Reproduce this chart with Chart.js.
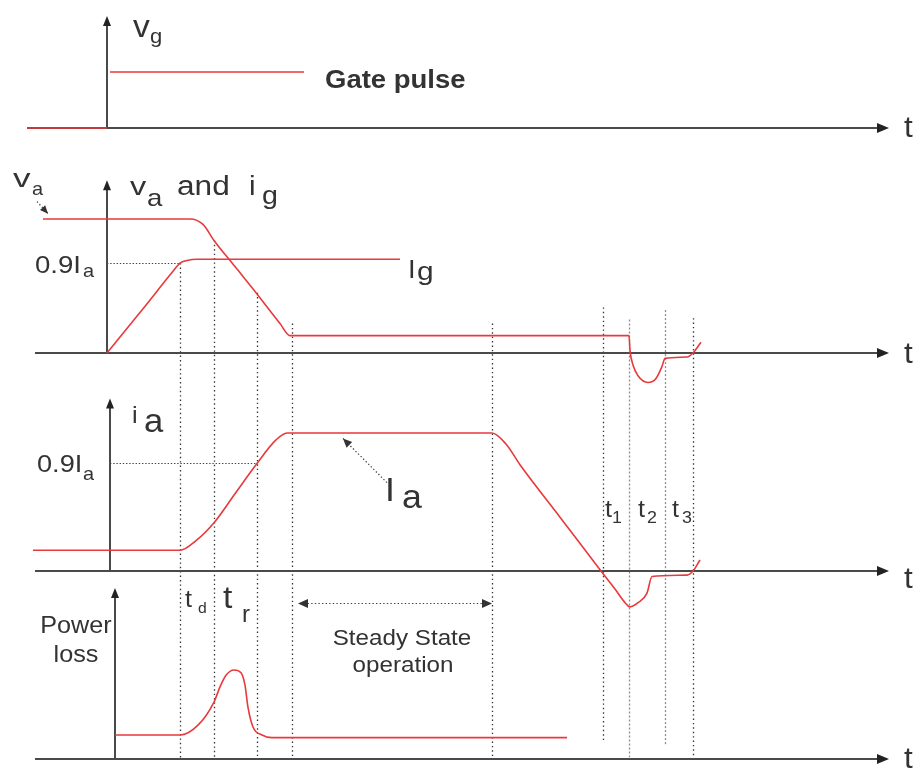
<!DOCTYPE html>
<html>
<head>
<meta charset="utf-8">
<title>Thyristor switching characteristics</title>
<script src="https://cdn.jsdelivr.net/npm/chart.js@4.4.1/dist/chart.umd.min.js"></script>
<style>
  html, body { margin: 0; padding: 0; background: #fff; }
  #chart { display: block; }
</style>
</head>
<body>
<canvas id="chart" width="917" height="769"></canvas>
<script>
// time in arbitrary units, gate pulse applied at t = 0
// gate voltage (1 = pulse amplitude)
const gateT = [-8, 0, 0.15, 0.3, 19.7];
const gateV = [0, 0, null, 1, 1];

// anode voltage (1 = Va) and gate current, same units
const vaT = [-6.4, 8.3, 9.6, 10.7, 12.8, 14.9, 17.3, 18.3, 52.2, 52.3, 52.6, 53.1, 54.1, 54.9, 55.5, 55.8, 58.0, 58.6, 59.4];
const vaV = [1, 1, 0.96, 0.84, 0.645, 0.45, 0.22, 0.13, 0.13, 0.02, -0.09, -0.17, -0.22, -0.19, -0.1, -0.04, -0.03, 0, 0.08];
const igT = [0, 3.6, 6.5, 7.3, 8.0, 9.0, 29.3];
const igV = [0, 0.33, 0.6, 0.67, 0.69, 0.70, 0.70];
const igMark = 0.67;

// anode current (1 = Ia)
const iaT = [-7.4, 7.3, 8.9, 10.7, 12.8, 14.9, 16.9, 18.0, 38.5, 39.9, 41.3, 45.3, 49.4, 50.8, 51.7, 52.3, 53.1, 54.0, 54.5, 58.0, 58.6, 59.3];
const iaV = [0.15, 0.15, 0.22, 0.35, 0.56, 0.77, 0.95, 1, 1, 0.92, 0.77, 0.39, 0, -0.13, -0.22, -0.26, -0.23, -0.16, -0.04, -0.03, 0, 0.08];
const iaMark = 0.78;

// power loss (1 = peak)
const lossT = [0.8, 7.3, 9.1, 10.7, 11.3, 11.9, 12.7, 13.4, 13.8, 14.1, 14.6, 15.5, 16.5, 46.0];
const lossV = [0.27, 0.27, 0.38, 0.64, 0.81, 0.94, 1, 0.97, 0.83, 0.58, 0.36, 0.27, 0.24, 0.24];

// dotted time markers: time, top (va units), bottom (power units)
const guideT = [7.3, 10.7, 15.0, 18.5, 38.5, 49.6, 52.2, 55.8, 58.6];
const guideTop = [0.67, 0.84, 0.45, 0.22, 0.22, 0.34, 0.25, 0.32, 0.26];
const guideBottom = [0, 0, 0, 0, 0, 0.18, 0.02, 0.16, 0.04];

// layout: baseline pixel and pixels per unit for each strip
const H = 769;
const panels = {
    p1: { base: 128, unit: 56 },
    p2: { base: 353, unit: 134 },
    p3: { base: 571, unit: 138 },
    p4: { base: 759, unit: 89 }
};
const RED = '#e8393c';
const AXIS = '#4a4a4a';
const TEXT = '#333';

const pts = (ts, vs) => ts.map((t, i) => ({ x: t, y: vs[i] }));
const yScale = p => ({ type: 'linear', display: false, min: -(H - p.base) / p.unit, max: p.base / p.unit });

// axes per strip: x start, y-axis time, y-axis top
const axes = [
    { id: 'p1', from: -8, yt: 0, top: 2.0 },
    { id: 'p2', from: -7.2, yt: 0, top: 1.29 },
    { id: 'p3', from: -7.2, yt: 0.3, top: 1.25 },
    { id: 'p4', from: -7.2, yt: 0.8, top: 1.92 }
];
const axisEnd = 78.2;

const labels = [
    { s: 'v', t: 2.6, v: 1.63, p: 'p1', size: 32 },
    { s: 'g', t: 4.3, v: 1.52, p: 'p1', size: 21 },
    { s: 'Gate pulse', t: 21.8, v: 0.71, p: 'p1', size: 25, bold: true, sx: 1.1 },
    { s: 't', t: 79.7, v: -0.16, p: 'p1', size: 30 },

    { s: 'v', t: -9.4, v: 1.24, p: 'p2', size: 26, sx: 1.35 },
    { s: 'a', t: -7.5, v: 1.18, p: 'p2', size: 19 },
    { s: 'v', t: 2.3, v: 1.18, p: 'p2', size: 25, sx: 1.3 },
    { s: 'a', t: 4.0, v: 1.10, p: 'p2', size: 24, sx: 1.15 },
    { s: 'and', t: 7.0, v: 1.18, p: 'p2', size: 27, sx: 1.17 },
    { s: 'i', t: 14.2, v: 1.18, p: 'p2', size: 27, sx: 1.1 },
    { s: 'g', t: 15.5, v: 1.11, p: 'p2', size: 26, sx: 1.1 },
    { s: '0.9I', t: -7.2, v: 0.60, p: 'p2', size: 23, sx: 1.2 },
    { s: 'a', t: -2.4, v: 0.57, p: 'p2', size: 19, sx: 1.05 },
    { s: 'I', t: 30.1, v: 0.56, p: 'p2', size: 26 },
    { s: 'g', t: 31.0, v: 0.545, p: 'p2', size: 26, sx: 1.15 },
    { s: 't', t: 79.7, v: -0.075, p: 'p2', size: 30 },

    { s: 'i', t: 2.5, v: 1.07, p: 'p3', size: 24 },
    { s: 'a', t: 3.7, v: 1.01, p: 'p3', size: 33 },
    { s: '0.9I', t: -7.0, v: 0.72, p: 'p3', size: 23, sx: 1.18 },
    { s: 'a', t: -2.4, v: 0.66, p: 'p3', size: 19, sx: 1.05 },
    { s: 'I', t: 27.8, v: 0.51, p: 'p3', size: 34 },
    { s: 'a', t: 29.5, v: 0.46, p: 'p3', size: 34 },
    { s: 't', t: 49.8, v: 0.39, p: 'p3', size: 24 },
    { s: '1', t: 50.5, v: 0.35, p: 'p3', size: 17 },
    { s: 't', t: 53.1, v: 0.39, p: 'p3', size: 24 },
    { s: '2', t: 54.0, v: 0.35, p: 'p3', size: 17 },
    { s: 't', t: 56.5, v: 0.39, p: 'p3', size: 24 },
    { s: '3', t: 57.5, v: 0.35, p: 'p3', size: 17 },
    { s: 't', t: 79.7, v: -0.12, p: 'p3', size: 30 },

    { s: 'Power', t: -3.1, v: 1.42, p: 'p4', size: 24, align: 'center' },
    { s: 'loss', t: -3.1, v: 1.09, p: 'p4', size: 24, align: 'center' },
    { s: 't', t: 7.8, v: 1.71, p: 'p4', size: 24 },
    { s: 'd', t: 9.1, v: 1.64, p: 'p4', size: 15 },
    { s: 't', t: 11.6, v: 1.70, p: 'p4', size: 32 },
    { s: 'r', t: 13.5, v: 1.54, p: 'p4', size: 23 },
    { s: 'Steady State', t: 29.5, v: 1.28, p: 'p4', size: 22, align: 'center', sx: 1.1 },
    { s: 'operation', t: 29.6, v: 0.98, p: 'p4', size: 22, align: 'center', sx: 1.1 },
    { s: 't', t: 79.7, v: -0.10, p: 'p4', size: 30 }
];

function seg(ctx, x1, y1, x2, y2) {
    ctx.beginPath();
    ctx.moveTo(x1, y1);
    ctx.lineTo(x2, y2);
    ctx.stroke();
}

function head(ctx, x1, y1, x2, y2, len, half) {
    const a = Math.atan2(y2 - y1, x2 - x1);
    ctx.beginPath();
    ctx.moveTo(x2, y2);
    ctx.lineTo(x2 - len * Math.cos(a) + half * Math.sin(a), y2 - len * Math.sin(a) - half * Math.cos(a));
    ctx.lineTo(x2 - len * Math.cos(a) - half * Math.sin(a), y2 - len * Math.sin(a) + half * Math.cos(a));
    ctx.closePath();
    ctx.fill();
}

const diagram = {
    id: 'diagram',
    beforeDatasetsDraw(chart) {
        const { ctx, scales } = chart;
        const X = t => scales.x.getPixelForValue(t);
        const Y = (id, v) => scales[id].getPixelForValue(v);
        ctx.save();

        // dotted time markers
        ctx.lineWidth = 1.3;
        guideT.forEach((t, i) => {
            const light = i === 6 || i === 7;
            const x = Math.round(X(t)) + 0.5;
            ctx.strokeStyle = light ? '#8a8a8a' : '#333';
            ctx.setLineDash(light ? [2, 2] : [1.4, 3]);
            seg(ctx, x, Y('p2', guideTop[i]), x, Y('p4', guideBottom[i]));
        });

        // 0.9 level markers
        ctx.strokeStyle = '#444';
        ctx.lineWidth = 1.2;
        ctx.setLineDash([1.4, 1.8]);
        let y = Math.round(Y('p2', igMark)) + 0.5;
        seg(ctx, X(0), y, X(7.3), y);
        y = Math.round(Y('p3', iaMark)) + 0.5;
        seg(ctx, X(0.3), y, X(15.0), y);

        // small pointer arrows
        ctx.fillStyle = '#333';
        ctx.setLineDash([1.4, 2.2]);
        let a = [X(-7.0), Y('p2', 1.13), X(-5.9), Y('p2', 1.04)];
        seg(ctx, a[0], a[1], a[2], a[3]);
        head(ctx, a[0], a[1], a[2], a[3], 8, 3.5);
        a = [X(28.0), Y('p3', 0.64), X(23.6), Y('p3', 0.96)];
        seg(ctx, a[0], a[1], a[2], a[3]);
        head(ctx, a[0], a[1], a[2], a[3], 9, 4);
        y = Math.round(Y('p4', 1.75)) + 0.5;
        seg(ctx, X(19.1) + 6, y, X(38.5) - 6, y);
        head(ctx, X(30), y, X(19.1), y, 10, 4.5);
        head(ctx, X(30), y, X(38.5), y, 10, 4.5);

        // axes with arrow heads
        ctx.setLineDash([]);
        ctx.strokeStyle = AXIS;
        ctx.fillStyle = '#222';
        ctx.lineWidth = 2;
        axes.forEach(ax => {
            const y0 = Math.round(Y(ax.id, 0));
            const xe = X(axisEnd);
            seg(ctx, X(ax.from), y0, xe - 8, y0);
            head(ctx, X(ax.from), y0, xe, y0, 12, 5);
            const x0 = Math.round(X(ax.yt));
            const yt = Y(ax.id, ax.top);
            seg(ctx, x0, y0, x0, yt + 7);
            head(ctx, x0, y0, x0, yt, 10, 4);
        });
        ctx.restore();
    },
    afterDatasetsDraw(chart) {
        const { ctx, scales } = chart;
        ctx.save();
        ctx.fillStyle = TEXT;
        ctx.textBaseline = 'alphabetic';
        labels.forEach(l => {
            const x = scales.x.getPixelForValue(l.t);
            const y = scales[l.p].getPixelForValue(l.v);
            ctx.font = (l.bold ? 'bold ' : '') + l.size + 'px "Liberation Sans", Arial, sans-serif';
            ctx.textAlign = l.align || 'left';
            ctx.save();
            ctx.translate(x, y);
            ctx.scale(l.sx || 1.05, 1);
            ctx.fillText(l.s, 0, 0);
            ctx.restore();
        });
        ctx.restore();
    }
};

const line = (ts, vs, id, extra) => Object.assign({
    data: pts(ts, vs),
    yAxisID: id,
    borderColor: RED,
    borderWidth: 1.6,
    pointRadius: 0,
    fill: false,
    clip: false,
    spanGaps: false,
    cubicInterpolationMode: 'monotone'
}, extra || {});

new Chart(document.getElementById('chart'), {
    type: 'line',
    data: {
        datasets: [
            line(gateT, gateV, 'p1', { cubicInterpolationMode: 'default', tension: 0 }),
            line(vaT, vaV, 'p2'),
            line(igT, igV, 'p2'),
            line(iaT, iaV, 'p3'),
            line(lossT, lossV, 'p4')
        ]
    },
    options: {
        responsive: false,
        animation: false,
        layout: { padding: 0 },
        plugins: { legend: { display: false }, tooltip: { enabled: false } },
        scales: {
            x: { type: 'linear', display: false, min: -10.7, max: 81.0 },
            p1: yScale(panels.p1),
            p2: yScale(panels.p2),
            p3: yScale(panels.p3),
            p4: yScale(panels.p4)
        }
    },
    plugins: [diagram]
});
</script>
</body>
</html>
